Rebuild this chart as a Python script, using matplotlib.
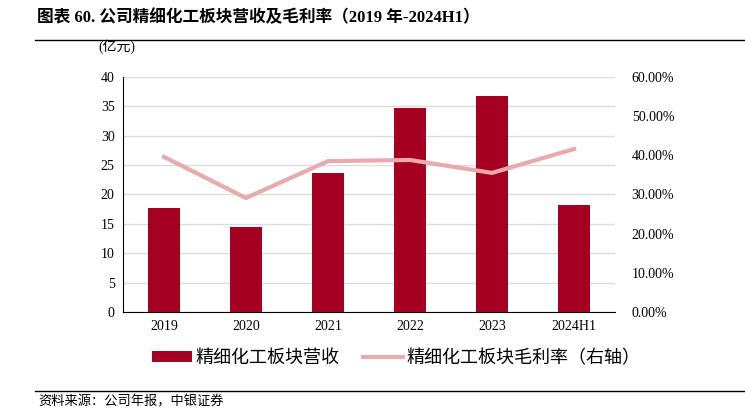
import matplotlib
matplotlib.use('Agg')
import matplotlib.pyplot as plt
import numpy as np
from matplotlib.ticker import FuncFormatter

plt.rcParams['font.family'] = ['Liberation Serif', 'Noto Sans CJK SC']

# data
years = ['2019', '2020', '2021', '2022', '2023', '2024H1']
revenue = [17.7, 14.5, 23.7, 34.7, 36.8, 18.2]       # 亿元
margin = [0.396, 0.291, 0.385, 0.388, 0.355, 0.416]  # 毛利率

bar_color = '#A50021'
line_color = '#E8AAAA'

fig = plt.figure(figsize=(7.45, 4.2), dpi=100)
ax = fig.add_axes([0.165, 0.257, 0.6605, 0.560])

x = np.arange(len(years))
ax.bar(x, revenue, width=0.4, color=bar_color, label='精细化工板块营收', zorder=3)
ax.set_ylim(0, 40)
ax.set_yticks(np.arange(0, 41, 5))
ax.set_xlim(-0.5, len(years) - 0.5)
ax.set_xticks(x)
ax.set_xticklabels(years)
ax.grid(axis='y', color='#DDDDDD', linewidth=1, zorder=0)
for s in ['top', 'right']:
    ax.spines[s].set_visible(False)
ax.spines['left'].set_color('black')
ax.spines['bottom'].set_color('black')
ax.tick_params(axis='both', length=0, labelsize=10, pad=6)

ax2 = ax.twinx()
ax2.plot(x, margin, color=line_color, linewidth=3, label='精细化工板块毛利率（右轴）', zorder=4)
ax2.set_ylim(0, 0.6)
ax2.set_yticks(np.arange(0, 0.61, 0.1))
ax2.yaxis.set_major_formatter(FuncFormatter(lambda v, p: f'{v*100:.2f}%'))
for s in ['top', 'right', 'left', 'bottom']:
    ax2.spines[s].set_visible(False)
ax2.tick_params(axis='y', length=0, labelsize=10, pad=12)

h1, l1 = ax.get_legend_handles_labels()
h2, l2 = ax2.get_legend_handles_labels()
fig.legend(h1 + h2, l1 + l2, loc='center', bbox_to_anchor=(0.532, 0.148), ncol=2,
           frameon=False, handlelength=2.2, handleheight=0.6, handletextpad=0.2,
           columnspacing=1.3, prop={'family': ['Noto Sans CJK SC'], 'size': 13})

fig.text(0.05, 0.958, '图表 60. 公司精细化工板块营收及毛利率（2019 年-2024H1）',
         fontsize=12, fontweight='bold', va='center')
fig.add_artist(plt.Line2D([0.047, 1.0], [0.905, 0.905], color='black', linewidth=1))
fig.text(0.132, 0.888, '(亿元)', fontsize=10, va='center')
fig.add_artist(plt.Line2D([0.047, 1.0], [0.069, 0.069], color='black', linewidth=1))
fig.text(0.051, 0.043, '资料来源：公司年报，中银证券', fontsize=9.5, style='italic', va='center')

fig.savefig('out.png', dpi=100)
